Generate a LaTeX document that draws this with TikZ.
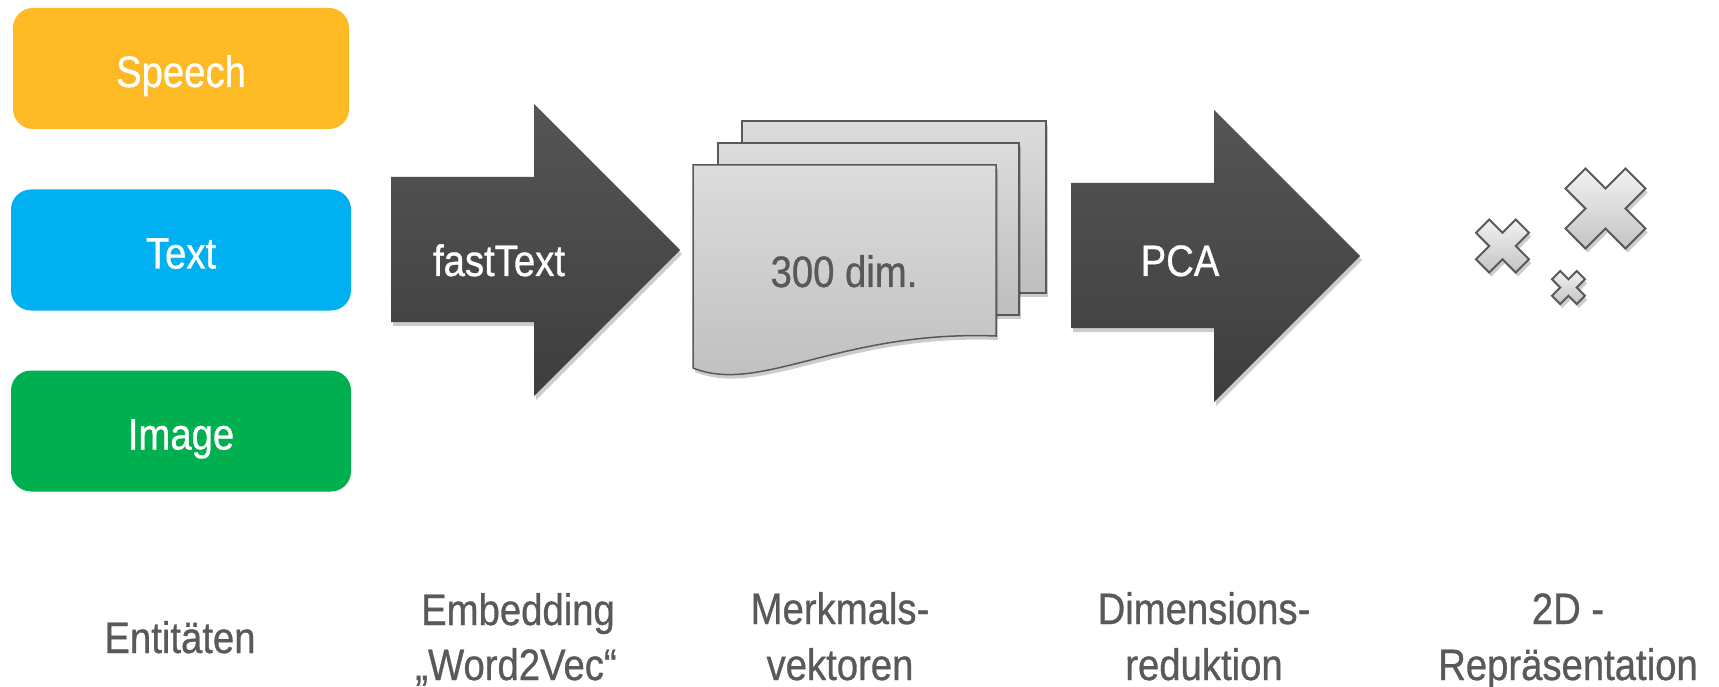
\documentclass[tikz,border=0pt]{standalone}
\usepackage{fontspec}
\setmainfont{Liberation Sans}[FakeStretch=0.87,FakeBold=0.7]
\usetikzlibrary{shadows}
\definecolor{speechc}{HTML}{FDBA24}
\definecolor{textc}{HTML}{00B0F0}
\definecolor{imagec}{HTML}{00B050}
\definecolor{lblc}{HTML}{595959}
\definecolor{arrowtop}{HTML}{555555}
\definecolor{arrowbot}{HTML}{3E3E3E}
\definecolor{docA}{HTML}{DCDCDC}
\definecolor{docB}{HTML}{BEBEBE}
\definecolor{crossA}{HTML}{F2F2F2}
\definecolor{crossB}{HTML}{C4C4C4}
\begin{document}
\begin{tikzpicture}[x=1pt,y=-1pt,
  every node/.style={font=\fontsize{44}{57}\selectfont, inner sep=0pt, outer sep=0pt},
  entity/.style={rounded corners=20pt, text=white, minimum height=121pt,
    text height=37pt, text depth=0pt},
  softshadow/.style={drop shadow={opacity=0.2, fill=black, shadow xshift=2pt, shadow yshift=-4pt}},
  bigarrow/.style={top color=arrowtop, bottom color=arrowbot, softshadow},
  doc/.style={top color=docA, bottom color=docB, draw=lblc, line width=1.5pt, softshadow},
  crossmark/.style={top color=crossA, bottom color=crossB, draw=lblc, line width=2pt, line join=miter, softshadow},
  arrowlabel/.style={text=white, anchor=base},
  caption/.style={text=lblc, anchor=base}
]
\useasboundingbox (0,0) rectangle (1719,687);

% entity boxes
\node[entity, fill=speechc, minimum width=336pt] (speech) at (181,68.5) {Speech};
\node[entity, fill=textc, minimum width=340pt] (text) at (181,250) {Text};
\node[entity, fill=imagec, minimum width=340pt] (image) at (181,431) {Image};

% embedding arrow
\path[bigarrow] (391,177) -- (534,177) -- (534,104) -- (680,250) -- (534,396) -- (534,322) -- (391,322) -- cycle;
\node[arrowlabel] (fasttext) at (499,276) {fastText};

% documents
\path[doc] (742,121) rectangle (1046,293);
\path[doc] (718,143) rectangle (1019,315);
\path[doc] (693,165) -- (996,165) -- (996,336) .. controls (840,330) and (760,395) .. (693,368) -- cycle;
\node[caption] (dim) at (844,287) {300 dim.};

% PCA arrow
\path[bigarrow] (1071,183) -- (1214,183) -- (1214,110) -- (1360,256) -- (1214,402) -- (1214,328) -- (1071,328) -- cycle;
\node[arrowlabel] (pca) at (1180,276) {PCA};

% crosses
\foreach \cx/\cy/\a in {1605.5/208.5/40, 1502.5/246/26.5, 1568.5/287.5/16.5} {
  \path[crossmark]
    ({\cx-\a/2},{\cy-\a}) -- (\cx,{\cy-\a/2}) -- ({\cx+\a/2},{\cy-\a}) --
    ({\cx+\a},{\cy-\a/2}) -- ({\cx+\a/2},\cy) -- ({\cx+\a},{\cy+\a/2}) --
    ({\cx+\a/2},{\cy+\a}) -- (\cx,{\cy+\a/2}) -- ({\cx-\a/2},{\cy+\a}) --
    ({\cx-\a},{\cy+\a/2}) -- ({\cx-\a/2},\cy) -- ({\cx-\a},{\cy-\a/2}) -- cycle;
}

% captions
\node[caption] (c1) at (180,653) {Entitäten};
\node[caption] (c2a) at (518,625) {Embedding};
\node[caption] (c2b) at (516,680) {„Word2Vec“};
\node[caption] (c3a) at (840,624) {Merkmals-};
\node[caption] (c3b) at (840,680) {vektoren};
\node[caption] (c4a) at (1204,624) {Dimensions-};
\node[caption] (c4b) at (1204,680) {reduktion};
\node[caption] (c5a) at (1568,624) {2D -};
\node[caption] (c5b) at (1568,680) {Repräsentation};
\end{tikzpicture}
\end{document}
